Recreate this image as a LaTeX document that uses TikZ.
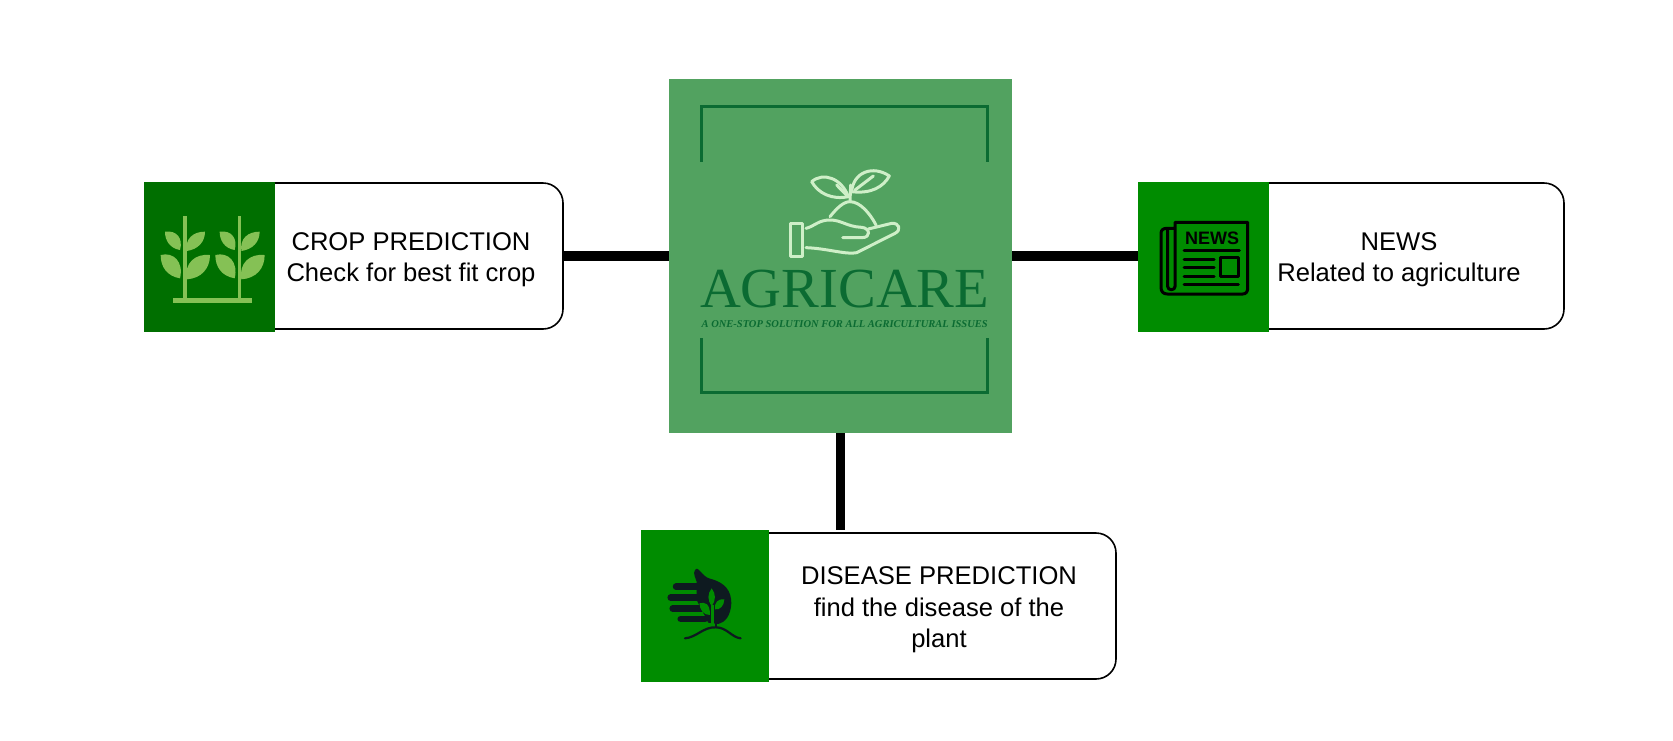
\documentclass[tikz,border=0pt]{standalone}
\usepackage{fontspec}
\setmainfont{Liberation Sans}
\newfontfamily\logofont{Liberation Serif}
\usetikzlibrary{positioning}
\definecolor{hubgreen}{HTML}{52A260}
\definecolor{logogreen}{HTML}{0B6B32}
\definecolor{sprout}{HTML}{CFEFC8}
\definecolor{cropgreen}{HTML}{006F00}
\definecolor{cropleaf}{HTML}{85C155}
\definecolor{iconbg}{HTML}{008C00}
\definecolor{handdark}{HTML}{0E1A20}
\tikzset{
  cardbox/.style={draw=black,line width=1.6pt,fill=white,rounded corners=20pt,inner sep=0pt,outer sep=0pt},
  iconbox/.style={inner sep=0pt,outer sep=0pt,minimum width=131pt,minimum height=150pt},
  cardtext/.style={align=center,inner sep=0pt,font=\fontsize{25.6}{31.4}\selectfont},
  link/.style={line width=9.5pt,black},
  sproutline/.style={draw=sprout,line width=3pt,line cap=round,line join=round},
  newsline/.style={draw=black,line width=3pt,line cap=round,line join=round},
  bracket/.style={draw=logogreen,line width=3pt}
}
\begin{document}
\begin{tikzpicture}[x=1pt,y=-1pt]
  \useasboundingbox (0,0) rectangle (1673,740);
  \fill[white] (0,0) rectangle (1673,740);

  \node[fill=hubgreen,inner sep=0pt,outer sep=0pt,minimum width=343pt,minimum height=354pt] (hub) at (840.5,256) {};
  \node[cardbox,minimum width=393pt,minimum height=146pt] (cropcard) at (366.5,256) {};
  \node[cardbox,minimum width=404pt,minimum height=146pt] (newscard) at (1362,256) {};
  \node[cardbox,minimum width=406pt,minimum height=146pt] (diseasecard) at (913,606) {};
  \node[iconbox,fill=cropgreen] (cropicon) at (209.5,256.5) {};
  \node[iconbox,fill=iconbg] (newsicon) at (1203.5,256.5) {};
  \node[iconbox,fill=iconbg,minimum width=128pt,minimum height=152pt] (diseaseicon) at (705,606) {};

  \draw[link] (cropcard.east) -- (hub.west);
  \draw[link] (hub.east) -- (hub.east -| newsicon.west);
  \draw[link] (hub.south) -- (hub.south |- diseaseicon.north);

  \node[cardtext] (croptext) at (411,259.5) {CROP PREDICTION\\Check for best fit crop};
  \node[cardtext] (newstext) at (1399,259.5) {NEWS\\Related to agriculture};
  \node[cardtext] (diseasetext) at (939,610) {DISEASE PREDICTION\\find the disease of the\\plant};

  \begin{scope}[shift={(660,70)},scale=1/3]
    \draw[bracket] (125,275) -- (125,110) -- (982,110) -- (982,275);
    \draw[bracket] (125,805) -- (125,968) -- (982,968) -- (982,805);
    \draw[sproutline] (390,460) rectangle (428,558);
    \draw[sproutline] (438,475) .. controls (465,468) and (475,450) .. (510,450) .. controls (545,450) and (560,470) .. (605,472) .. controls (630,474) and (635,503) .. (605,503) -- (548,503);
    \draw[sproutline] (625,477) -- (695,460) .. controls (718,458) and (725,480) .. (705,490) -- (590,548) .. controls (560,555) and (500,535) .. (438,533);
    \draw[sproutline] (510,440) .. controls (530,415) and (550,395) .. (570,395) .. controls (600,395) and (630,430) .. (648,465);
    \draw[sproutline] (570,395) -- (572,345);
    \draw[sproutline] (455,335) .. controls (490,305) and (545,325) .. (565,380) .. controls (515,390) and (475,370) .. (455,335) -- cycle;
    \draw[sproutline] (688,318) .. controls (640,285) and (580,305) .. (575,365) .. controls (635,372) and (670,350) .. (688,318) -- cycle;
    \draw[sproutline] (530,345) -- (562,378);
    \draw[sproutline] (640,318) -- (585,360);
    \node[inner sep=0pt,anchor=base,text=logogreen,font=\logofont\fontsize{56.6}{58}\selectfont] (logoname) at (554,712) {AGRICARE};
    \node[inner sep=0pt,anchor=base,text=logogreen,font=\logofont\bfseries\itshape\fontsize{10.5}{11}\selectfont] (logotag) at (554,772) {A ONE-STOP SOLUTION FOR ALL AGRICULTURAL ISSUES};
  \end{scope}

  \begin{scope}[shift={(130,170)},scale=1/3]
    \fill[cropleaf] (130,383) rectangle (365,400);
    \foreach \dx in {0,164} {
      \begin{scope}[shift={(\dx,0)}]
        \fill[cropleaf] (160,137) rectangle (170,385);
        \fill[cropleaf] (105,185) .. controls (140,180) and (160,205) .. (150,240) .. controls (120,235) and (105,212) .. (105,185) -- cycle;
        \fill[cropleaf] (225,185) .. controls (190,185) and (165,205) .. (170,243) .. controls (205,238) and (225,215) .. (225,185) -- cycle;
        \fill[cropleaf] (92,255) .. controls (130,245) and (162,275) .. (150,325) .. controls (110,318) and (92,290) .. (92,255) -- cycle;
        \fill[cropleaf] (240,255) .. controls (195,250) and (162,280) .. (170,328) .. controls (215,325) and (240,295) .. (240,255) -- cycle;
      \end{scope}
    }
  \end{scope}

  \begin{scope}[shift={(1130,170)},scale=1/3]
    \draw[newsline] (135,350) -- (135,157) -- (353,157) -- (353,355) .. controls (353,365) and (348,372) .. (338,372) -- (112,372) .. controls (100,372) and (93,365) .. (93,352) -- (93,190) .. controls (93,180) and (100,175) .. (110,175) -- (135,175);
    \draw[newsline] (113,180) -- (113,350) .. controls (113,362) and (135,362) .. (135,350);
    \node[inner sep=0pt,font=\bfseries\fontsize{18}{18}\selectfont] (newsword) at (246,204) {NEWS};
    \draw[newsline] (162,240) -- (328,240);
    \foreach \y in {267,292,318}
      \draw[newsline] (162,\y) -- (252,\y);
    \draw[newsline] (162,344) -- (325,344);
    \draw[newsline] (270,263) rectangle (325,318);
  \end{scope}

  \begin{scope}[shift={(630,520)},scale=1/3]
    \fill[handdark] (195,150) .. controls (205,135) and (215,170) .. (240,176) .. controls (288,188) and (304,215) .. (304,250) .. controls (302,288) and (285,307) .. (265,312) -- (235,308) -- (200,240) -- (200,185) .. controls (197,175) and (188,160) .. (195,150) -- cycle;
    \foreach \xs/\y in {138/200,122/233,128/266,152/297}
      \draw[handdark,line width=6.5pt,line cap=round] (\xs,\y) -- (225,\y);
    \fill[iconbg] (245,205) .. controls (258,222) and (258,240) .. (245,258) .. controls (232,240) and (232,222) .. (245,205) -- cycle;
    \fill[iconbg] (208,250) .. controls (225,245) and (240,250) .. (240,285) .. controls (220,285) and (210,270) .. (208,250) -- cycle;
    \fill[iconbg] (283,238) .. controls (265,235) and (252,248) .. (255,268) .. controls (270,270) and (282,258) .. (283,238) -- cycle;
    \draw[iconbg,line width=2.4pt] (247,255) -- (247,312);
    \draw[handdark,line width=2.4pt] (258,300) -- (258,322);
    \draw[handdark,line width=2.2pt,line cap=round] (165,355) .. controls (200,352) and (220,320) .. (258,322) .. controls (290,322) and (305,352) .. (332,355);
  \end{scope}
\end{tikzpicture}
\end{document}
